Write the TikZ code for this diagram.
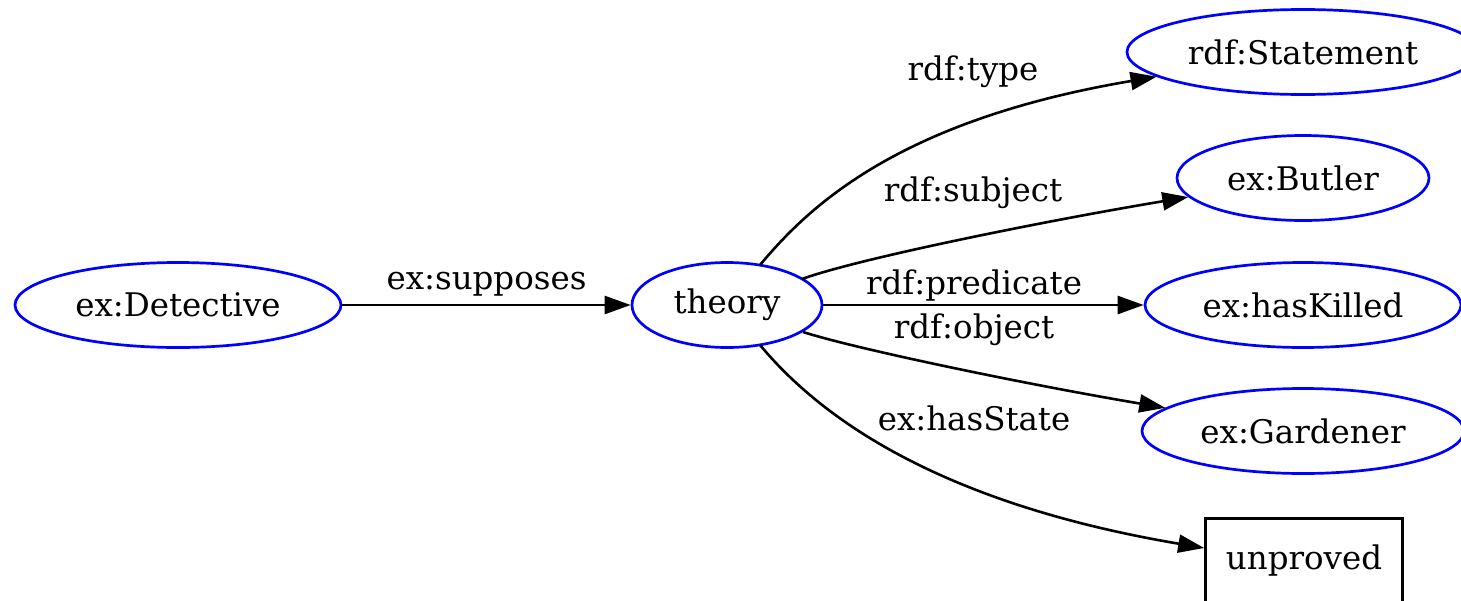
\documentclass[tikz,border=0pt]{standalone}
\usepackage{fontspec}
\setmainfont{DejaVu Serif}
\usetikzlibrary{shapes.geometric,arrows.meta,calc}
\begin{document}
\begin{tikzpicture}[x=1pt,y=-1pt,
  res/.style={ellipse,draw=blue,line width=2.7pt,inner sep=0pt,minimum height=85pt,font=\fontsize{32.5}{38}\selectfont},
  lit/.style={rectangle,draw=black,line width=2.6pt,inner sep=0pt,minimum height=85pt,minimum width=197pt,font=\fontsize{32.5}{38}\selectfont},
  edge/.style={line width=2.6pt,-{Triangle[length=26pt,width=18pt]}},
  lbl/.style={font=\fontsize{32.5}{38}\selectfont,inner sep=0pt}]
\useasboundingbox (0,0) rectangle (1461,600);
\clip (0,0) rectangle (1461,600);
\fill[white] (0,0) rectangle (1461,600);
\node[res,minimum width=326pt] (det) at (178,305) {ex:Detective};
\node[res,minimum width=190pt] (th) at (727,305) {theory};
\node[res,minimum width=352pt] (st) at (1303,52) {rdf:Statement};
\node[res,minimum width=252pt] (bu) at (1303,178) {ex:Butler};
\node[res,minimum width=316pt] (hk) at (1303,305) {ex:hasKilled};
\node[res,minimum width=322pt] (ga) at (1303,431) {ex:Gardener};
\node[lit] (un) at (1304,561) {unproved};
\coordinate (unin) at ([yshift=13pt]un.west);
\coordinate (t1) at (760,265);
\coordinate (t2) at (802,279);
\coordinate (t3) at (803,332);
\coordinate (t4) at (760,345);
\draw[edge] (det) -- node[lbl,above=7pt] {ex:supposes} (th);
\draw[edge] (t1) .. controls (810,205) and (900,120) .. (st);
\node[lbl] at (973,72) {rdf:type};
\draw[edge] (t2) .. controls (860,258) and (1050,220) .. (bu);
\node[lbl] at (973,193) {rdf:subject};
\draw[edge] (th) -- (hk);
\node[lbl] at (974,286) {rdf:predicate};
\draw[edge] (t3) .. controls (860,350) and (1030,385) .. (ga);
\node[lbl] at (974,330) {rdf:object};
\draw[edge] (t4) .. controls (810,405) and (920,500) .. (unin);
\node[lbl] at (974,418) {ex:hasState};
\end{tikzpicture}
\end{document}
